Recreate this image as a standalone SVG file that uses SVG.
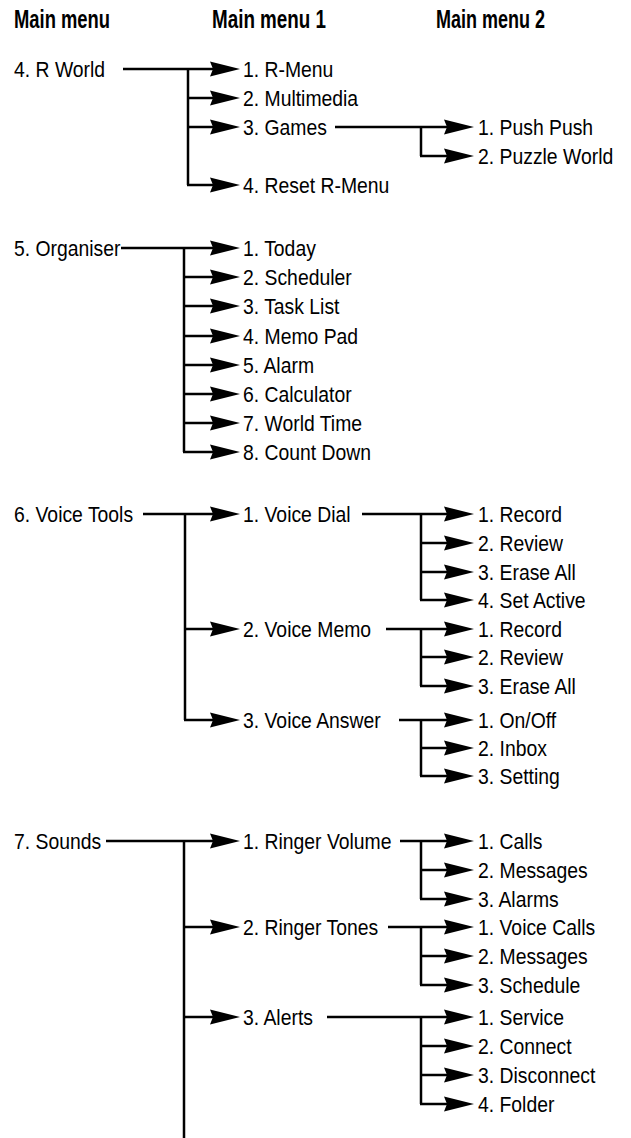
<svg xmlns="http://www.w3.org/2000/svg" width="631" height="1138" viewBox="0 0 631 1138">
<style>
.h{font-family:"Liberation Sans",Arial,sans-serif;font-weight:bold;font-size:25px;fill:#000}
.t{font-family:"Liberation Sans",Arial,sans-serif;font-size:22px;fill:#000}
.c{fill:none;stroke:#000;stroke-width:2.5;stroke-linecap:butt;stroke-linejoin:miter}
.a{marker-end:url(#ah)}
</style>
<defs>
<marker id="ah" markerUnits="userSpaceOnUse" viewBox="0 0 30 16" markerWidth="30" markerHeight="16" refX="10" refY="8" orient="auto">
<path d="M0,0.5 L30,8 L0,15.5 L3,8 Z" fill="#000"/>
</marker>
</defs>
<g id="headers">
<text class="h" x="14" y="28" textLength="96" lengthAdjust="spacingAndGlyphs">Main menu</text>
<text class="h" x="212" y="28" textLength="114" lengthAdjust="spacingAndGlyphs">Main menu 1</text>
<text class="h" x="436" y="28" textLength="109" lengthAdjust="spacingAndGlyphs">Main menu 2</text>
</g>
<g id="connectors">
<line class="c a" x1="123" y1="69" x2="220" y2="69"/>
<path class="c" d="M188,69 V185"/>
<line class="c a" x1="188" y1="98" x2="220" y2="98"/>
<line class="c a" x1="188" y1="127" x2="220" y2="127"/>
<line class="c a" x1="187" y1="185" x2="220" y2="185"/>
<line class="c a" x1="335" y1="127" x2="454" y2="127"/>
<path class="c" d="M421,127 V156"/>
<line class="c a" x1="420" y1="156" x2="454" y2="156"/>
<line class="c a" x1="121" y1="248" x2="220" y2="248"/>
<path class="c" d="M184,248 V452"/>
<line class="c a" x1="184" y1="277" x2="220" y2="277"/>
<line class="c a" x1="184" y1="306" x2="220" y2="306"/>
<line class="c a" x1="184" y1="336" x2="220" y2="336"/>
<line class="c a" x1="184" y1="365" x2="220" y2="365"/>
<line class="c a" x1="184" y1="394" x2="220" y2="394"/>
<line class="c a" x1="184" y1="423" x2="220" y2="423"/>
<line class="c a" x1="183" y1="452" x2="220" y2="452"/>
<line class="c a" x1="143" y1="514" x2="220" y2="514"/>
<path class="c" d="M185,514 V720"/>
<line class="c a" x1="185" y1="629" x2="220" y2="629"/>
<line class="c a" x1="184" y1="720" x2="220" y2="720"/>
<line class="c a" x1="362" y1="514" x2="454" y2="514"/>
<path class="c" d="M421,514 V600"/>
<line class="c a" x1="421" y1="543" x2="454" y2="543"/>
<line class="c a" x1="421" y1="572" x2="454" y2="572"/>
<line class="c a" x1="420" y1="600" x2="454" y2="600"/>
<line class="c a" x1="386" y1="629" x2="454" y2="629"/>
<path class="c" d="M421,629 V686"/>
<line class="c a" x1="421" y1="657" x2="454" y2="657"/>
<line class="c a" x1="420" y1="686" x2="454" y2="686"/>
<line class="c a" x1="399" y1="720" x2="454" y2="720"/>
<path class="c" d="M421,720 V776"/>
<line class="c a" x1="421" y1="748" x2="454" y2="748"/>
<line class="c a" x1="420" y1="776" x2="454" y2="776"/>
<line class="c a" x1="106" y1="841" x2="220" y2="841"/>
<path class="c" d="M184,841 V1138"/>
<line class="c a" x1="184" y1="927" x2="220" y2="927"/>
<line class="c a" x1="184" y1="1017" x2="220" y2="1017"/>
<line class="c a" x1="400" y1="841" x2="454" y2="841"/>
<path class="c" d="M421,841 V899"/>
<line class="c a" x1="421" y1="870" x2="454" y2="870"/>
<line class="c a" x1="420" y1="899" x2="454" y2="899"/>
<line class="c a" x1="388" y1="927" x2="454" y2="927"/>
<path class="c" d="M421,927 V985"/>
<line class="c a" x1="421" y1="956" x2="454" y2="956"/>
<line class="c a" x1="420" y1="985" x2="454" y2="985"/>
<line class="c a" x1="327" y1="1017" x2="454" y2="1017"/>
<path class="c" d="M421,1017 V1104"/>
<line class="c a" x1="421" y1="1046" x2="454" y2="1046"/>
<line class="c a" x1="421" y1="1075" x2="454" y2="1075"/>
<line class="c a" x1="420" y1="1104" x2="454" y2="1104"/>
</g>
<g id="n-rworld"><text class="t" transform="translate(14,77) scale(0.88,1)">4. R World</text></g>
<g id="n-rmenu"><text class="t" transform="translate(243,77) scale(0.88,1)">1. R-Menu</text></g>
<g id="n-multimedia"><text class="t" transform="translate(243,106) scale(0.88,1)">2. Multimedia</text></g>
<g id="n-games"><text class="t" transform="translate(243,135) scale(0.88,1)">3. Games</text></g>
<g id="n-reset"><text class="t" transform="translate(243,193) scale(0.88,1)">4. Reset R-Menu</text></g>
<g id="n-pushpush"><text class="t" transform="translate(478,135) scale(0.88,1)">1. Push Push</text></g>
<g id="n-puzzle"><text class="t" transform="translate(478,164) scale(0.88,1)">2. Puzzle World</text></g>
<g id="n-organiser"><text class="t" transform="translate(14,256) scale(0.88,1)">5. Organiser</text></g>
<g id="n-today"><text class="t" transform="translate(243,256) scale(0.88,1)">1. Today</text></g>
<g id="n-scheduler"><text class="t" transform="translate(243,285) scale(0.88,1)">2. Scheduler</text></g>
<g id="n-tasklist"><text class="t" transform="translate(243,314) scale(0.88,1)">3. Task List</text></g>
<g id="n-memopad"><text class="t" transform="translate(243,344) scale(0.88,1)">4. Memo Pad</text></g>
<g id="n-alarm"><text class="t" transform="translate(243,373) scale(0.88,1)">5. Alarm</text></g>
<g id="n-calculator"><text class="t" transform="translate(243,402) scale(0.88,1)">6. Calculator</text></g>
<g id="n-worldtime"><text class="t" transform="translate(243,431) scale(0.88,1)">7. World Time</text></g>
<g id="n-countdown"><text class="t" transform="translate(243,460) scale(0.88,1)">8. Count Down</text></g>
<g id="n-voicetools"><text class="t" transform="translate(14,522) scale(0.88,1)">6. Voice Tools</text></g>
<g id="n-voicedial"><text class="t" transform="translate(243,522) scale(0.88,1)">1. Voice Dial</text></g>
<g id="n-voicememo"><text class="t" transform="translate(243,637) scale(0.88,1)">2. Voice Memo</text></g>
<g id="n-voiceanswer"><text class="t" transform="translate(243,728) scale(0.88,1)">3. Voice Answer</text></g>
<g id="n-vd-record"><text class="t" transform="translate(478,522) scale(0.88,1)">1. Record</text></g>
<g id="n-vd-review"><text class="t" transform="translate(478,551) scale(0.88,1)">2. Review</text></g>
<g id="n-vd-erase"><text class="t" transform="translate(478,580) scale(0.88,1)">3. Erase All</text></g>
<g id="n-vd-setactive"><text class="t" transform="translate(478,608) scale(0.88,1)">4. Set Active</text></g>
<g id="n-vm-record"><text class="t" transform="translate(478,637) scale(0.88,1)">1. Record</text></g>
<g id="n-vm-review"><text class="t" transform="translate(478,665) scale(0.88,1)">2. Review</text></g>
<g id="n-vm-erase"><text class="t" transform="translate(478,694) scale(0.88,1)">3. Erase All</text></g>
<g id="n-va-onoff"><text class="t" transform="translate(478,728) scale(0.88,1)">1. On/Off</text></g>
<g id="n-va-inbox"><text class="t" transform="translate(478,756) scale(0.88,1)">2. Inbox</text></g>
<g id="n-va-setting"><text class="t" transform="translate(478,784) scale(0.88,1)">3. Setting</text></g>
<g id="n-sounds"><text class="t" transform="translate(14,849) scale(0.88,1)">7. Sounds</text></g>
<g id="n-ringervolume"><text class="t" transform="translate(243,849) scale(0.88,1)">1. Ringer Volume</text></g>
<g id="n-ringertones"><text class="t" transform="translate(243,935) scale(0.88,1)">2. Ringer Tones</text></g>
<g id="n-alerts"><text class="t" transform="translate(243,1025) scale(0.88,1)">3. Alerts</text></g>
<g id="n-rv-calls"><text class="t" transform="translate(478,849) scale(0.88,1)">1. Calls</text></g>
<g id="n-rv-messages"><text class="t" transform="translate(478,878) scale(0.88,1)">2. Messages</text></g>
<g id="n-rv-alarms"><text class="t" transform="translate(478,907) scale(0.88,1)">3. Alarms</text></g>
<g id="n-rt-voicecalls"><text class="t" transform="translate(478,935) scale(0.88,1)">1. Voice Calls</text></g>
<g id="n-rt-messages"><text class="t" transform="translate(478,964) scale(0.88,1)">2. Messages</text></g>
<g id="n-rt-schedule"><text class="t" transform="translate(478,993) scale(0.88,1)">3. Schedule</text></g>
<g id="n-al-service"><text class="t" transform="translate(478,1025) scale(0.88,1)">1. Service</text></g>
<g id="n-al-connect"><text class="t" transform="translate(478,1054) scale(0.88,1)">2. Connect</text></g>
<g id="n-al-disconnect"><text class="t" transform="translate(478,1083) scale(0.88,1)">3. Disconnect</text></g>
<g id="n-al-folder"><text class="t" transform="translate(478,1112) scale(0.88,1)">4. Folder</text></g>
</svg>
